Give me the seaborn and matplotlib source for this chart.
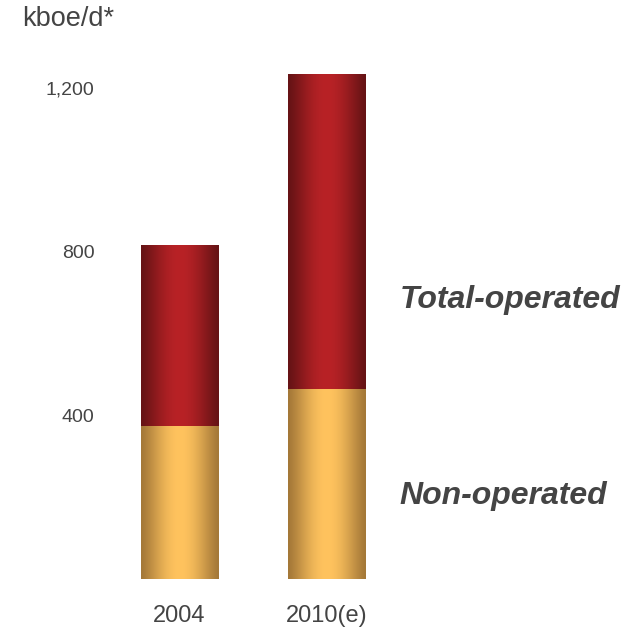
import numpy as np
import pandas as pd
import seaborn as sns
import matplotlib.pyplot as plt
from matplotlib.colors import LinearSegmentedColormap

years = ["2004", "2010(e)"]
non_operated = [372, 463]
total_operated = [814, 1232]
y_ticks = [400, 800, 1200]
y_tick_labels = ["400", "800", "1,200"]


def gradient_cmap(edge, mid):
    return LinearSegmentedColormap.from_list("g", [edge, mid])


def paint_bars(ax, patches, cmap):
    # cylinder-like shading: dark edges, light middle
    x = np.linspace(0, 1, 256)
    grad = (np.sin(np.pi * x) ** 1.3).reshape(1, -1)
    for p in patches:
        x0, y0 = p.get_x(), p.get_y()
        w, h = p.get_width(), p.get_height()
        ax.imshow(grad, cmap=cmap, aspect="auto", interpolation="bicubic",
                  vmin=0, vmax=1, extent=(x0, x0 + w, y0, y0 + h), zorder=2)
        p.set_visible(False)


def main():
    sns.set_style("white")
    plt.rcParams["font.family"] = ["Liberation Sans", "DejaVu Sans"]

    df = pd.DataFrame({"year": years, "non": non_operated, "total": total_operated})

    fig = plt.figure(figsize=(6.33, 6.28), dpi=100)
    ax = fig.add_axes([100 / 633, 49 / 628, 533 / 633, 539 / 628])

    sns.barplot(data=df, x="year", y="total", color="#b52025", width=0.524, ax=ax)
    red_patches = list(ax.patches)
    sns.barplot(data=df, x="year", y="non", color="#fec25c", width=0.524, ax=ax)
    gold_patches = [p for p in ax.patches if p not in red_patches]

    paint_bars(ax, red_patches, gradient_cmap("#661315", "#b82226"))
    paint_bars(ax, gold_patches, gradient_cmap("#a47838", "#ffc35e"))

    ax.set_xlim(-0.539, 3.075)
    ax.set_ylim(0, 1317)
    ax.set_yticks(y_ticks)
    ax.set_yticklabels(y_tick_labels)
    ax.set_xlabel("")
    ax.set_ylabel("")
    ax.tick_params(axis="y", labelsize=14, colors="#444444", length=0, pad=4)
    ax.tick_params(axis="x", labelsize=17, colors="#444444", length=0, pad=19)
    sns.despine(ax=ax, left=True, bottom=True)

    fig.text(22 / 633, 1 - 19 / 628, "kboe/d*", fontsize=19.5, color="#444444",
             ha="left", va="center")
    fig.text(510 / 633, 1 - 300 / 628, "Total-operated", fontsize=23,
             fontweight="bold", fontstyle="italic", color="#444444",
             ha="center", va="center")
    fig.text(503 / 633, 1 - 496 / 628, "Non-operated", fontsize=23,
             fontweight="bold", fontstyle="italic", color="#444444",
             ha="center", va="center")

    fig.savefig("out.png", dpi=100)


if __name__ == "__main__":
    main()
